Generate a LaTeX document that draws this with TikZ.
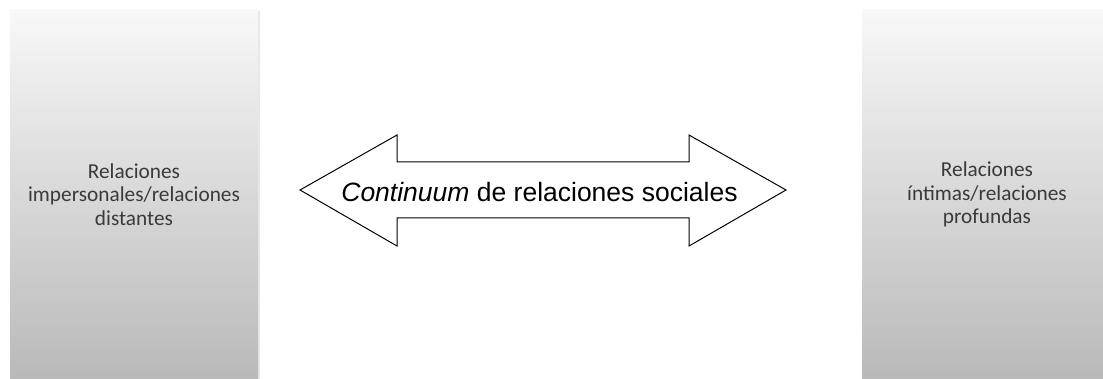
\documentclass[tikz,border=0pt]{standalone}
\usepackage{fontspec}
\setmainfont{Liberation Sans}
\newfontfamily\boxfont{Carlito}
\usetikzlibrary{shadows}
\definecolor{boxtop}{HTML}{F8F8F8}
\definecolor{boxbottom}{HTML}{B9B9B9}
\definecolor{boxtext}{HTML}{3A3A3A}
\begin{document}
\begin{tikzpicture}[x=1pt,y=-1pt,
  sidebox/.style={rectangle, top color=boxtop, bottom color=boxbottom,
    draw=none, text=boxtext, font=\boxfont\fontsize{21.3}{23.5}\selectfont,
    align=center, inner sep=0pt,
    drop shadow={opacity=0.18, shadow xshift=1.5pt, shadow yshift=-1pt}},
  arrowshape/.style={draw=black, line width=1pt, fill=white, line join=miter},
  arrowlabel/.style={font=\fontsize{26.5}{30}\selectfont, text=black, inner sep=0pt}]
\useasboundingbox (0,0) rectangle (1103,379);
\fill[white] (0,0) rectangle (1103,379);
\node[sidebox, minimum width=248pt, minimum height=369pt] (left) at (134,194.5)
  {Relaciones\\impersonales/relaciones\\distantes};
\node[sidebox, minimum width=250pt, minimum height=369pt] (right) at (987,194.5)
  {Relaciones\\íntimas/relaciones\\profundas};
\coordinate (ltip) at (300,190);
\coordinate (rtip) at (786,190);
\draw[arrowshape] (ltip) -- (397,135) -- (397,162) -- (689,162) -- (689,135) -- (rtip)
  -- (689,246) -- (689,218) -- (397,218) -- (397,246) -- cycle;
\node[arrowlabel] (label) at (539.5,192.5) {\textit{Continuum} de relaciones sociales};
\end{tikzpicture}
\end{document}
